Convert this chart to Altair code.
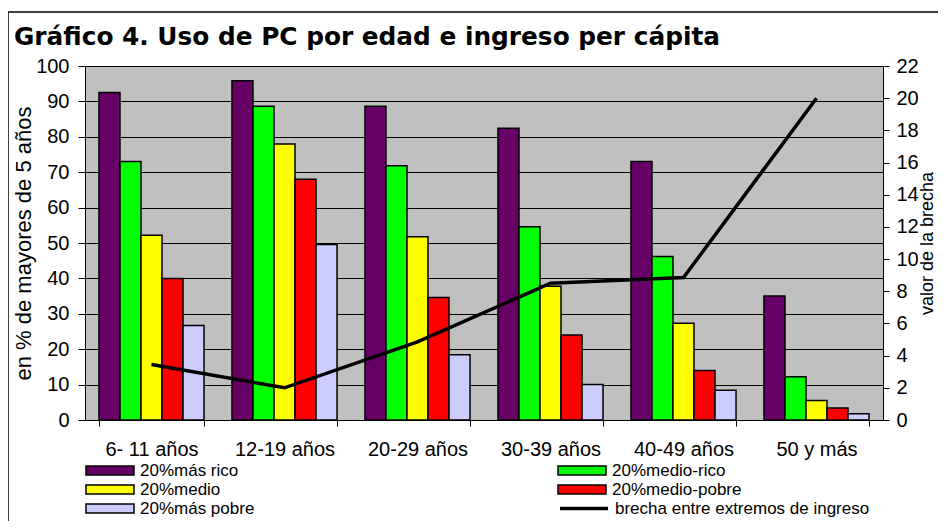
import altair as alt
import pandas as pd

categories = ["6- 11 años", "12-19 años", "20-29 años", "30-39 años", "40-49 años", "50 y más"]
series = ["20%más rico", "20%medio-rico", "20%medio", "20%medio-pobre", "20%más pobre"]
colors = ["#660066", "#00FF00", "#FFFF00", "#FF0000", "#CCCCFF"]

mas_rico = [92.5, 95.8, 88.6, 82.4, 73.0, 35.0]
medio_rico = [73.0, 88.6, 71.8, 54.6, 46.2, 12.2]
medio = [52.2, 78.0, 51.8, 37.8, 27.3, 5.5]
medio_pobre = [40.0, 68.0, 34.6, 24.0, 14.0, 3.4]
mas_pobre = [26.7, 49.6, 18.4, 10.0, 8.4, 1.8]

brecha = [3.45, 2.0, 4.85, 8.5, 8.85, 20.0]
line_label = "brecha entre extremos de ingreso"

rows = []
for s, vals in zip(series, [mas_rico, medio_rico, medio, medio_pobre, mas_pobre]):
    for c, v in zip(categories, vals):
        rows.append({"edad": c, "grupo": s, "valor": v})
bars_df = pd.DataFrame(rows)
line_df = pd.DataFrame({"edad": categories, "brecha": brecha, "serie": [line_label] * len(categories)})

FONT = "Liberation Sans"

x_enc = alt.X(
    "edad:N", sort=categories,
    scale=alt.Scale(paddingInner=0.21, paddingOuter=0.105),
    axis=alt.Axis(title=None, labelAngle=0, tickBand="extent", tickSize=6,
                  labelPadding=13, labelFontSize=20, domainColor="black",
                  tickColor="black", labelColor="black", labelFont=FONT),
)

bars = alt.Chart(bars_df).mark_bar(stroke="black", strokeWidth=1.5).encode(
    x=x_enc,
    xOffset=alt.XOffset("grupo:N", sort=series, scale=alt.Scale(paddingInner=0, paddingOuter=0)),
    y=alt.Y("valor:Q", scale=alt.Scale(domain=[0, 100], nice=False),
            axis=alt.Axis(title="en % de mayores de 5 años", values=list(range(0, 101, 10)),
                          grid=True, gridColor="black", gridOpacity=1, gridWidth=1,
                          domainColor="black", tickColor="black", tickSize=7,
                          labelPadding=9, labelFontSize=20, labelColor="black", labelFont=FONT,
                          titleFontSize=22, titleFontWeight="normal", titleFont=FONT,
                          titleColor="black", titlePadding=0)),
    color=alt.Color("grupo:N", sort=series, scale=alt.Scale(domain=series, range=colors),
                    legend=alt.Legend(title=None, orient="none", legendX=0, legendY=395,
                                      direction="horizontal",
                                      columns=2, columnPadding=302, rowPadding=0,
                                      symbolType="M-1,-0.1875H1V0.1875H-1Z", symbolSize=2304,
                                      symbolStrokeColor="black", symbolStrokeWidth=1.5,
                                      symbolOpacity=1, labelFont=FONT, labelFontSize=17,
                                      labelColor="black", labelOffset=5, clipHeight=19,
                                      padding=0, labelLimit=400)),
)

line = alt.Chart(line_df).mark_line(strokeWidth=3.5).encode(
    x=alt.X("edad:N", sort=categories),
    y=alt.Y("brecha:Q", scale=alt.Scale(domain=[0, 22], nice=False),
            axis=alt.Axis(title="valor de la brecha", orient="right", values=list(range(0, 23, 2)),
                          grid=False, domainColor="black", tickColor="black", tickSize=6,
                          labelPadding=7, labelFontSize=20, labelColor="black", labelFont=FONT,
                          titleFontSize=18, titleFontWeight="normal", titleFont=FONT,
                          titleColor="black", titlePadding=0, titleAngle=270,
                          titleBaseline="top")),
    stroke=alt.Stroke("serie:N", scale=alt.Scale(domain=[line_label], range=["black"]),
                      legend=alt.Legend(title=None, orient="none", legendX=473, legendY=433,
                                        symbolType="stroke", symbolSize=2304,
                                        symbolStrokeWidth=3.5, labelFont=FONT, labelFontSize=17,
                                        labelColor="black", labelOffset=5, clipHeight=19,
                                        padding=0, labelLimit=400)),
)

frame = alt.Chart(pd.DataFrame({"a": [0]})).mark_rect(
    fillOpacity=0, stroke="black", strokeWidth=1.5
).encode(x=alt.value(-77), y=alt.value(-54), x2=alt.value(950), y2=alt.value(520))

chart = alt.layer(bars, line, frame).resolve_scale(
    y="independent", color="independent", stroke="independent"
).properties(
    width=798, height=354,
    autosize=alt.AutoSizeParams(type="none"),
    padding={"left": 77, "top": 58, "right": 55, "bottom": 101},
    background="white",
    title=alt.TitleParams("Gráfico 4. Uso de PC por edad e ingreso per cápita",
                          anchor="start", frame="group", dx=-71, offset=-39,
                          font="DejaVu Sans", fontSize=24.8, fontWeight="bold", color="black"),
).configure_view(fill="#C0C0C0", stroke="#808080", strokeWidth=1)

chart.save("out.html", embed_options={"renderer": "svg", "actions": False})
